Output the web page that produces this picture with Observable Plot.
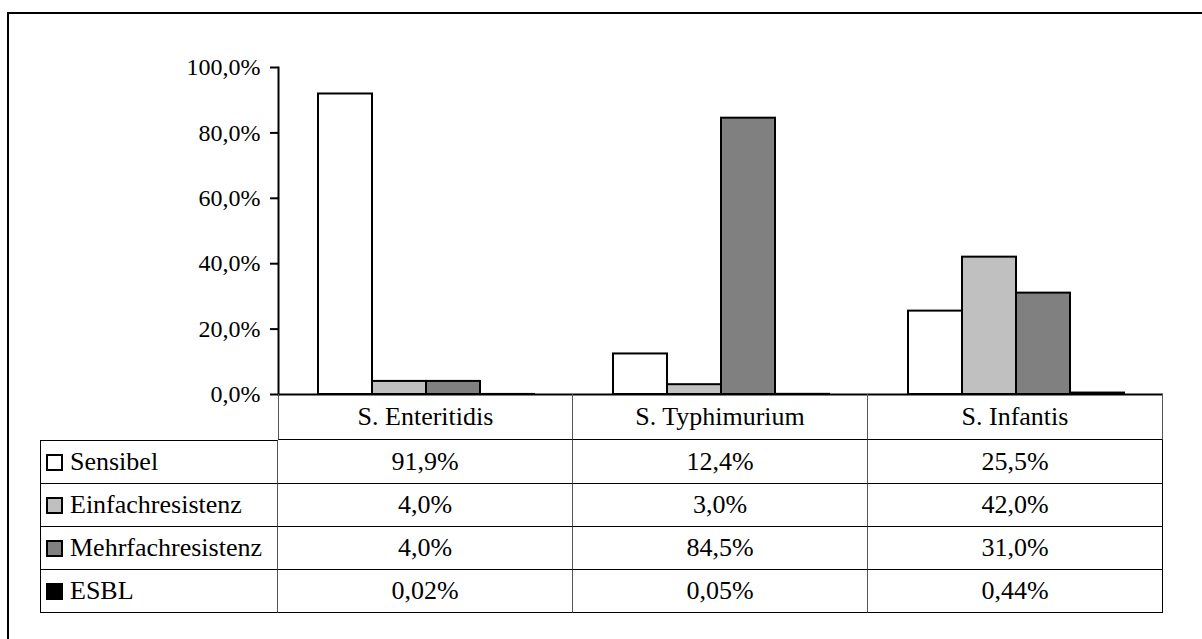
<!DOCTYPE html>
<html>
<head>
<meta charset="utf-8">
<script src="https://cdn.jsdelivr.net/npm/d3@7"></script>
<script src="https://cdn.jsdelivr.net/npm/@observablehq/plot@0.6"></script>
<style>
  html, body { margin: 0; padding: 0; background: #fff; }
  #wrap { position: relative; width: 1202px; height: 639px; overflow: hidden; font-family: "Liberation Serif", "Times New Roman", serif; }
  #border { position: absolute; left: 7px; top: 12px; width: 1300px; height: 800px; border: 2px solid #000; box-sizing: border-box; }
  #chart { position: absolute; left: 0; top: 0; }
  #table { position: absolute; left: 40px; top: 394px; display: grid;
           grid-template-columns: 238px 295px 295px 295px;
           grid-template-rows: 46px 44px 43px 43px 43px; }
  #table div { box-sizing: border-box; display: flex; align-items: center; justify-content: center;
               font-family: "Liberation Serif", "Times New Roman", serif;
               font-size: 26px; color: #000; white-space: nowrap; }
  #table .hdr { border-right: 1px solid #555; border-bottom: 1px solid #000; }
  #table .hdr.first { border-left: 1px solid #555; }
  #table .blank { border: none; }
  #table .lab { justify-content: flex-start; padding-left: 5px; border-left: 1px solid #000;
                border-right: 1px solid #555; border-bottom: 1px solid #000; }
  #table .lab.top { border-top: 1px solid #000; }
  #table .val { border-right: 1px solid #555; border-bottom: 1px solid #000; }
  #table .val.last { border-right: 1px solid #000; }
  #table .sw { display: inline-block; width: 17px; height: 17px; border: 2px solid #000;
               box-sizing: border-box; margin-right: 7px; flex: none; }
</style>
</head>
<body>
<div id="wrap">
  <div id="border"></div>
  <div id="chart"></div>
  <div id="table"></div>
</div>
<script>
// Salmonella serovars and resistance classes
const categories = ["S. Enteritidis", "S. Typhimurium", "S. Infantis"];
const series = ["Sensibel", "Einfachresistenz", "Mehrfachresistenz", "ESBL"];

// Shares in percent, one value per serovar
const sensibel = [91.9, 12.4, 25.5];
const einfachresistenz = [4.0, 3.0, 42.0];
const mehrfachresistenz = [4.0, 84.5, 31.0];
const esbl = [0.02, 0.05, 0.44];

// Decimals shown in the data table for each class
const decimals = [1, 1, 1, 2];

const colors = ["#ffffff", "#c0c0c0", "#808080", "#000000"];
const yTicks = [0, 20, 40, 60, 80, 100];

const seriesValues = [sensibel, einfachresistenz, mehrfachresistenz, esbl];

const data = categories.flatMap((c, i) =>
  series.map((s, j) => ({category: c, series: s, value: seriesValues[j][i]}))
);

const fmtTick = d => d.toFixed(1).replace(".", ",") + "%";
const fmtVal = (v, k) => v.toFixed(k).replace(".", ",") + "%";

const chart = Plot.plot({
  width: 1202,
  height: 420,
  marginLeft: 278,
  marginRight: 39,
  marginTop: 67,
  marginBottom: 26,
  style: {fontFamily: "'Liberation Serif', 'Times New Roman', serif", background: "transparent", color: "#000"},
  fx: {domain: categories, padding: 0, axis: null},
  x: {domain: series, paddingInner: 0, paddingOuter: 0.731, axis: null},
  y: {domain: [0, 100], axis: null},
  color: {domain: series, range: colors},
  marks: [
    Plot.barY(data, {fx: "category", x: "series", y: "value", fill: "series", stroke: "#000", strokeWidth: 2}),
    Plot.ruleY([0], {stroke: "#000", strokeWidth: 2}),
    Plot.frame({anchor: "left", facetAnchor: "left", stroke: "#000", strokeWidth: 2}),
    Plot.axisY({ticks: yTicks, tickFormat: fmtTick, tickSize: 8, tickPadding: 10, strokeWidth: 2, fontSize: 24, label: null})
  ]
});
document.getElementById("chart").appendChild(chart);

// Data table under the chart
const table = document.getElementById("table");
const cell = (cls, html) => {
  const d = document.createElement("div");
  d.className = cls;
  d.innerHTML = html;
  table.appendChild(d);
};
cell("blank", "");
categories.forEach((c, i) => cell("hdr" + (i === 0 ? " first" : ""), c));
series.forEach((s, j) => {
  cell("lab" + (j === 0 ? " top" : ""), `<span class="sw" style="background:${colors[j]}"></span>${s}`);
  categories.forEach((c, i) =>
    cell("val" + (i === categories.length - 1 ? " last" : ""), fmtVal(seriesValues[j][i], decimals[j]))
  );
});
</script>
</body>
</html>
